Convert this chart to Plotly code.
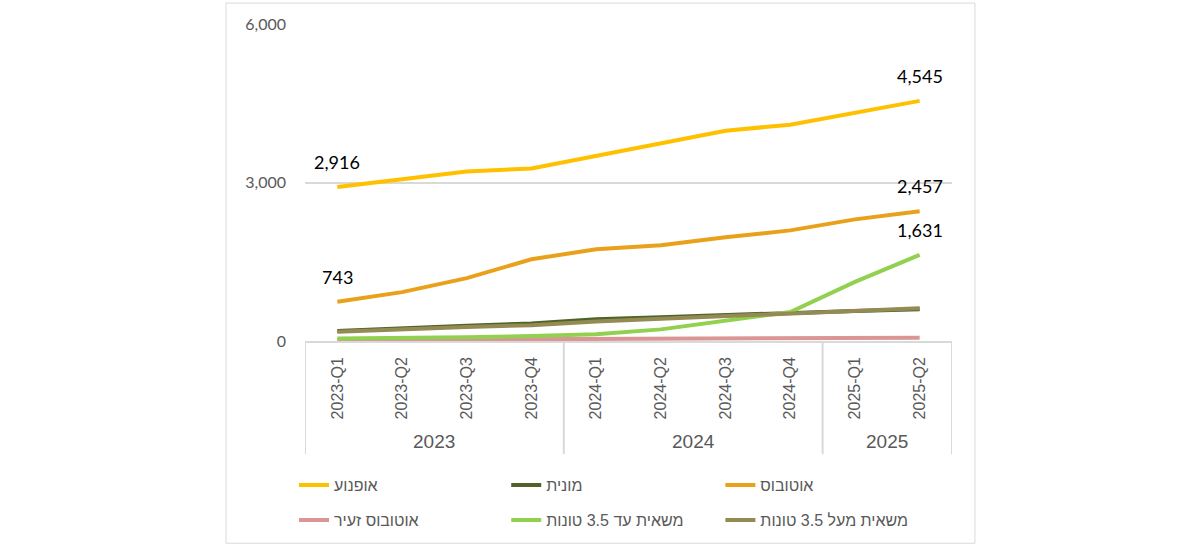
import plotly.graph_objects as go

years = ["2023"] * 4 + ["2024"] * 4 + ["2025"] * 2
quarters = ["2023-Q1", "2023-Q2", "2023-Q3", "2023-Q4",
            "2024-Q1", "2024-Q2", "2024-Q3", "2024-Q4",
            "2025-Q1", "2025-Q2"]

motorcycle = [2916, 3057, 3208, 3264, 3509, 3736, 3981, 4094, 4321, 4545]
taxi = [190, 245, 290, 330, 410, 450, 495, 535, 570, 600]
bus = [743, 925, 1189, 1547, 1736, 1811, 1962, 2094, 2302, 2457]
minibus = [20, 25, 30, 35, 40, 45, 50, 58, 62, 63]
truck_light = [45, 55, 70, 95, 130, 220, 390, 550, 1120, 1631]
truck_heavy = [175, 225, 265, 300, 370, 420, 470, 520, 580, 620]

names = ["אופנוע", "מונית", "אוטובוס",
         "אוטובוס זעיר", "משאית עד 3.5 טונות", "משאית מעל 3.5 טונות"]
values = [motorcycle, taxi, bus, minibus, truck_light, truck_heavy]
colors = ["#FFC000", "#4F6228", "#E9A11B", "#D99694", "#92D050", "#948A54"]

# data labels: (series values, index)
label_points = [(motorcycle, 0), (motorcycle, 9), (bus, 0), (bus, 9), (truck_light, 9)]

fig = go.Figure()
legend_ids = ["legend", "legend2", "legend3", "legend4", "legend5", "legend6"]
for name, vals, color, lg in zip(names, values, colors, legend_ids):
    fig.add_trace(go.Scatter(
        x=quarters, y=vals, name=name, mode="lines",
        line=dict(color=color, width=4), legend=lg,
    ))

label_font = dict(family="Lato, Liberation Sans, sans-serif", size=18, color="#000000")
for vals, i in label_points:
    fig.add_annotation(
        x=quarters[i], y=vals[i], xref="x", yref="y", text=f"{vals[i]:,}",
        showarrow=False, yshift=25, font=label_font,
    )

# year groups (second level of the category axis)
groups = []
for i, yr in enumerate(years):
    if not groups or groups[-1][0] != yr:
        groups.append([yr, i, i])
    else:
        groups[-1][2] = i

axis_grey = "#D9D9D9"
year_font = dict(family="Liberation Sans, Arial, sans-serif", size=19, color="#595959")
for yr, start, end in groups:
    fig.add_annotation(x=(start + end) / 2, y=-0.318, xref="x", yref="paper",
                       text=yr, showarrow=False, yanchor="middle", font=year_font)
boundaries = [groups[0][1] - 0.5] + [g[2] + 0.5 for g in groups]
for b in boundaries:
    fig.add_shape(type="line", xref="x", yref="paper", x0=b, x1=b, y0=0, y1=-0.357,
                  line=dict(color=axis_grey, width=2))

# outer chart border
fig.add_shape(type="rect", xref="paper", yref="paper",
              x0=-0.1221, x1=1.0355, y0=-0.638, y1=1.066,
              line=dict(color=axis_grey, width=1), fillcolor="rgba(0,0,0,0)", layer="below")

leg_font = dict(family="Liberation Sans, Arial, sans-serif", size=16, color="#595959")
legend_pos = [(-0.017, -0.45), (0.311, -0.45), (0.642, -0.45),
              (-0.017, -0.56), (0.311, -0.56), (0.642, -0.56)]
legends = {}
for lg, (lx, ly) in zip(legend_ids, legend_pos):
    legends[lg] = dict(x=lx, y=ly, xanchor="left", yanchor="middle", orientation="h",
                       font=leg_font, bgcolor="rgba(0,0,0,0)")

fig.update_layout(
    width=1200, height=547,
    margin=dict(l=305, r=248, t=24, b=205),
    paper_bgcolor="white", plot_bgcolor="white",
    showlegend=True,
    xaxis=dict(
        type="category", showline=True, linecolor=axis_grey, linewidth=1.5,
        showgrid=False, tickangle=-90, ticks="", ticklabelstandoff=8,
        range=[-0.5, len(quarters) - 0.5],
        tickfont=dict(family="Liberation Sans, Arial, sans-serif", size=16, color="#595959"),
    ),
    yaxis=dict(
        range=[0, 6000], dtick=3000, tickformat=",", showgrid=True, gridcolor=axis_grey,
        gridwidth=1.5, zeroline=False, showline=False, ticklabelstandoff=18,
        tickfont=dict(family="Lato, Liberation Sans, sans-serif", size=16, color="#595959"),
    ),
    **legends,
)

fig.write_html("out.html", config={"displayModeBar": False},
               post_script="document.body.style.margin='0px';")
